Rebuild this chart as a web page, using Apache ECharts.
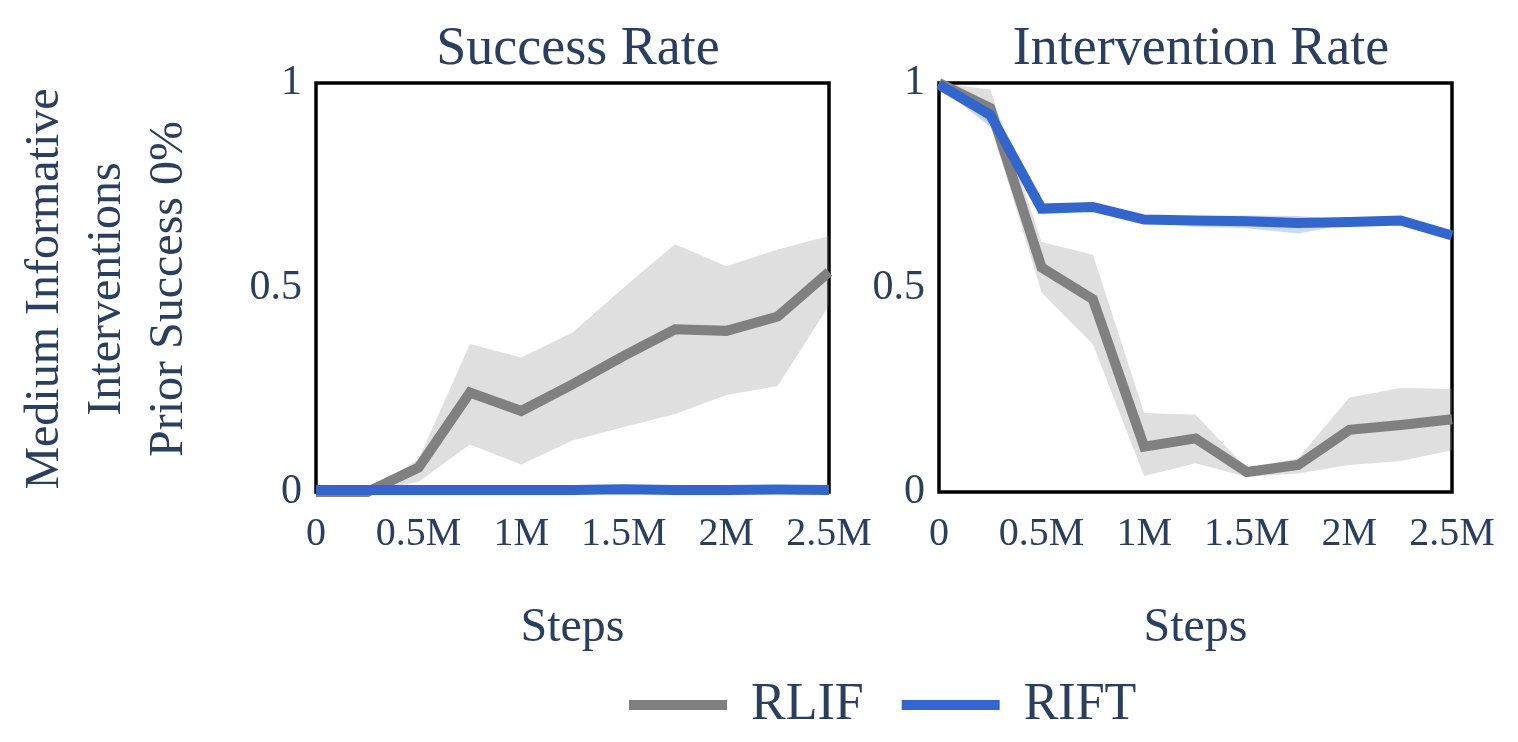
<!DOCTYPE html>
<html>
<head>
<meta charset="utf-8">
<script src="https://cdn.jsdelivr.net/npm/echarts@6/dist/echarts.min.js"></script>
<style>
html,body{margin:0;padding:0;background:#fff;}
#chart{width:1518px;height:742px;}
</style>
</head>
<body>
<div id="chart"></div>
<script>
// ---- data ----
var steps = [0, 250000, 500000, 750000, 1000000, 1250000, 1500000, 1750000, 2000000, 2250000, 2500000];
var xTickStep = 500000;
var yTicks = [0, 0.5, 1];

var successRLIF      = [0, 0, 0.06, 0.243, 0.198, 0.263, 0.333, 0.398, 0.394, 0.429, 0.538];
var successRLIFUpper = [0, 0.002, 0.08, 0.362, 0.329, 0.39, 0.50, 0.606, 0.552, 0.593, 0.626];
var successRLIFLower = [0, 0, 0.025, 0.116, 0.067, 0.126, 0.159, 0.191, 0.237, 0.259, 0.456];

var successRIFT      = [0.005, 0.005, 0.005, 0.005, 0.005, 0.005, 0.007, 0.005, 0.005, 0.006, 0.005];
var successRIFTUpper = [0.008, 0.008, 0.008, 0.008, 0.008, 0.009, 0.012, 0.008, 0.009, 0.012, 0.008];
var successRIFTLower = [0.002, 0.002, 0.002, 0.002, 0.002, 0.002, 0.002, 0.002, 0.002, 0.002, 0.002];

var interventionRLIF      = [1.0, 0.939, 0.549, 0.471, 0.111, 0.131, 0.049, 0.066, 0.152, 0.164, 0.178];
var interventionRLIFUpper = [1.0, 0.984, 0.611, 0.58, 0.193, 0.189, 0.058, 0.082, 0.231, 0.254, 0.252];
var interventionRLIFLower = [1.0, 0.90, 0.488, 0.361, 0.039, 0.07, 0.037, 0.045, 0.066, 0.076, 0.102];

var interventionRIFT      = [0.996, 0.922, 0.693, 0.697, 0.666, 0.664, 0.662, 0.658, 0.66, 0.664, 0.627];
var interventionRIFTUpper = [1.0, 0.935, 0.705, 0.703, 0.672, 0.675, 0.676, 0.675, 0.665, 0.668, 0.632];
var interventionRIFTLower = [0.99, 0.893, 0.678, 0.69, 0.66, 0.648, 0.645, 0.632, 0.655, 0.66, 0.622];

var panelTitles = ['Success Rate', 'Intervention Rate'];
var rowTitleLines = ['Medium Informative', 'Interventions', 'Prior Success 0%'];
var seriesNames = ['RLIF', 'RIFT'];

// ---- styling ----
var FONT = 'Liberation Serif';
var TXT = '#2a3f5f';
var GRAY = '#808080';
var BLUE = '#3366cc';
var GRAY_BAND = 'rgba(128,128,128,0.25)';
var BLUE_BAND = 'rgba(51,102,204,0.25)';

function diff(a, b) { return a.map(function (v, i) { return +(v - b[i]).toFixed(4); }); }
function fmtX(v) { v = Number(v); return v === 0 ? '0' : (v / 1e6) + 'M'; }

function band(idx, lower, upper, color, key) {
  return [
    { type: 'line', name: key + 'lo', xAxisIndex: idx, yAxisIndex: idx, stack: key, data: lower,
      symbol: 'none', lineStyle: { width: 0, opacity: 0 }, silent: true, z: 1 },
    { type: 'line', name: key + 'band', xAxisIndex: idx, yAxisIndex: idx, stack: key, data: diff(upper, lower),
      symbol: 'none', lineStyle: { width: 0, opacity: 0 }, areaStyle: { color: color, opacity: 1 }, silent: true, z: 1 }
  ];
}
function mainLine(idx, name, ys, color) {
  return { type: 'line', name: name, xAxisIndex: idx, yAxisIndex: idx, data: ys, symbol: 'none',
    color: color, lineStyle: { color: color, width: 10, join: 'miter' }, z: 3 };
}

var grids = [
  { left: 316, top: 83, width: 513, height: 409 },
  { left: 939, top: 83, width: 513, height: 409 }
];

var option = {
  backgroundColor: '#fff',
  animation: false,
  textStyle: { fontFamily: FONT, color: TXT },
  title: [
    { text: panelTitles[0], left: 573, top: 18, textAlign: 'center',
      textStyle: { fontFamily: FONT, color: TXT, fontSize: 54, fontWeight: 'normal' } },
    { text: panelTitles[1], left: 1196, top: 18, textAlign: 'center',
      textStyle: { fontFamily: FONT, color: TXT, fontSize: 54, fontWeight: 'normal' } }
  ],
  legend: {
    data: seriesNames,
    left: 624, top: 674,
    icon: 'rect', itemWidth: 98, itemHeight: 10, itemGap: 38,
    textStyle: { fontFamily: FONT, color: TXT, fontSize: 52, padding: [0, 0, 0, 19] }
  },
  graphic: rowTitleLines.map(function (t, i) {
    return { type: 'text', x: 45 + i * 62, y: 289, rotation: Math.PI / 2,
      style: { text: t, font: '48px "' + FONT + '"', fill: TXT, textAlign: 'center', textVerticalAlign: 'middle' } };
  }),
  grid: grids.map(function (g) {
    return Object.assign({ show: true, borderColor: '#000', borderWidth: 3.5, backgroundColor: 'transparent' }, g);
  }),
  xAxis: [0, 1].map(function (i) {
    return { type: 'category', gridIndex: i, data: steps, boundaryGap: false,
      name: 'Steps', nameLocation: 'middle', nameGap: 112,
      nameTextStyle: { fontFamily: FONT, color: TXT, fontSize: 48 },
      axisLine: { show: false }, axisTick: { show: false }, splitLine: { show: false },
      axisLabel: { interval: function (idx, val) { return Number(val) % xTickStep === 0; },
        formatter: fmtX, margin: 22, fontFamily: FONT, color: TXT, fontSize: 40 } };
  }),
  yAxis: [0, 1].map(function (i) {
    return { type: 'value', gridIndex: i, min: yTicks[0], max: yTicks[yTicks.length - 1], interval: 0.5,
      axisLine: { show: false }, axisTick: { show: false }, splitLine: { show: false },
      axisLabel: { formatter: function (v) { return String(v); }, margin: 14, fontFamily: FONT, color: TXT, fontSize: 42 } };
  }),
  series: [].concat(
    band(0, successRLIFLower, successRLIFUpper, GRAY_BAND, 'sg'),
    band(0, successRIFTLower, successRIFTUpper, BLUE_BAND, 'sb'),
    band(1, interventionRLIFLower, interventionRLIFUpper, GRAY_BAND, 'ig'),
    band(1, interventionRIFTLower, interventionRIFTUpper, BLUE_BAND, 'ib'),
    [
      mainLine(0, 'RLIF', successRLIF, GRAY),
      mainLine(0, 'RIFT', successRIFT, BLUE),
      mainLine(1, 'RLIF', interventionRLIF, GRAY),
      mainLine(1, 'RIFT', interventionRIFT, BLUE)
    ]
  )
};

var chart = echarts.init(document.getElementById('chart'));
chart.setOption(option);
</script>
</body>
</html>
